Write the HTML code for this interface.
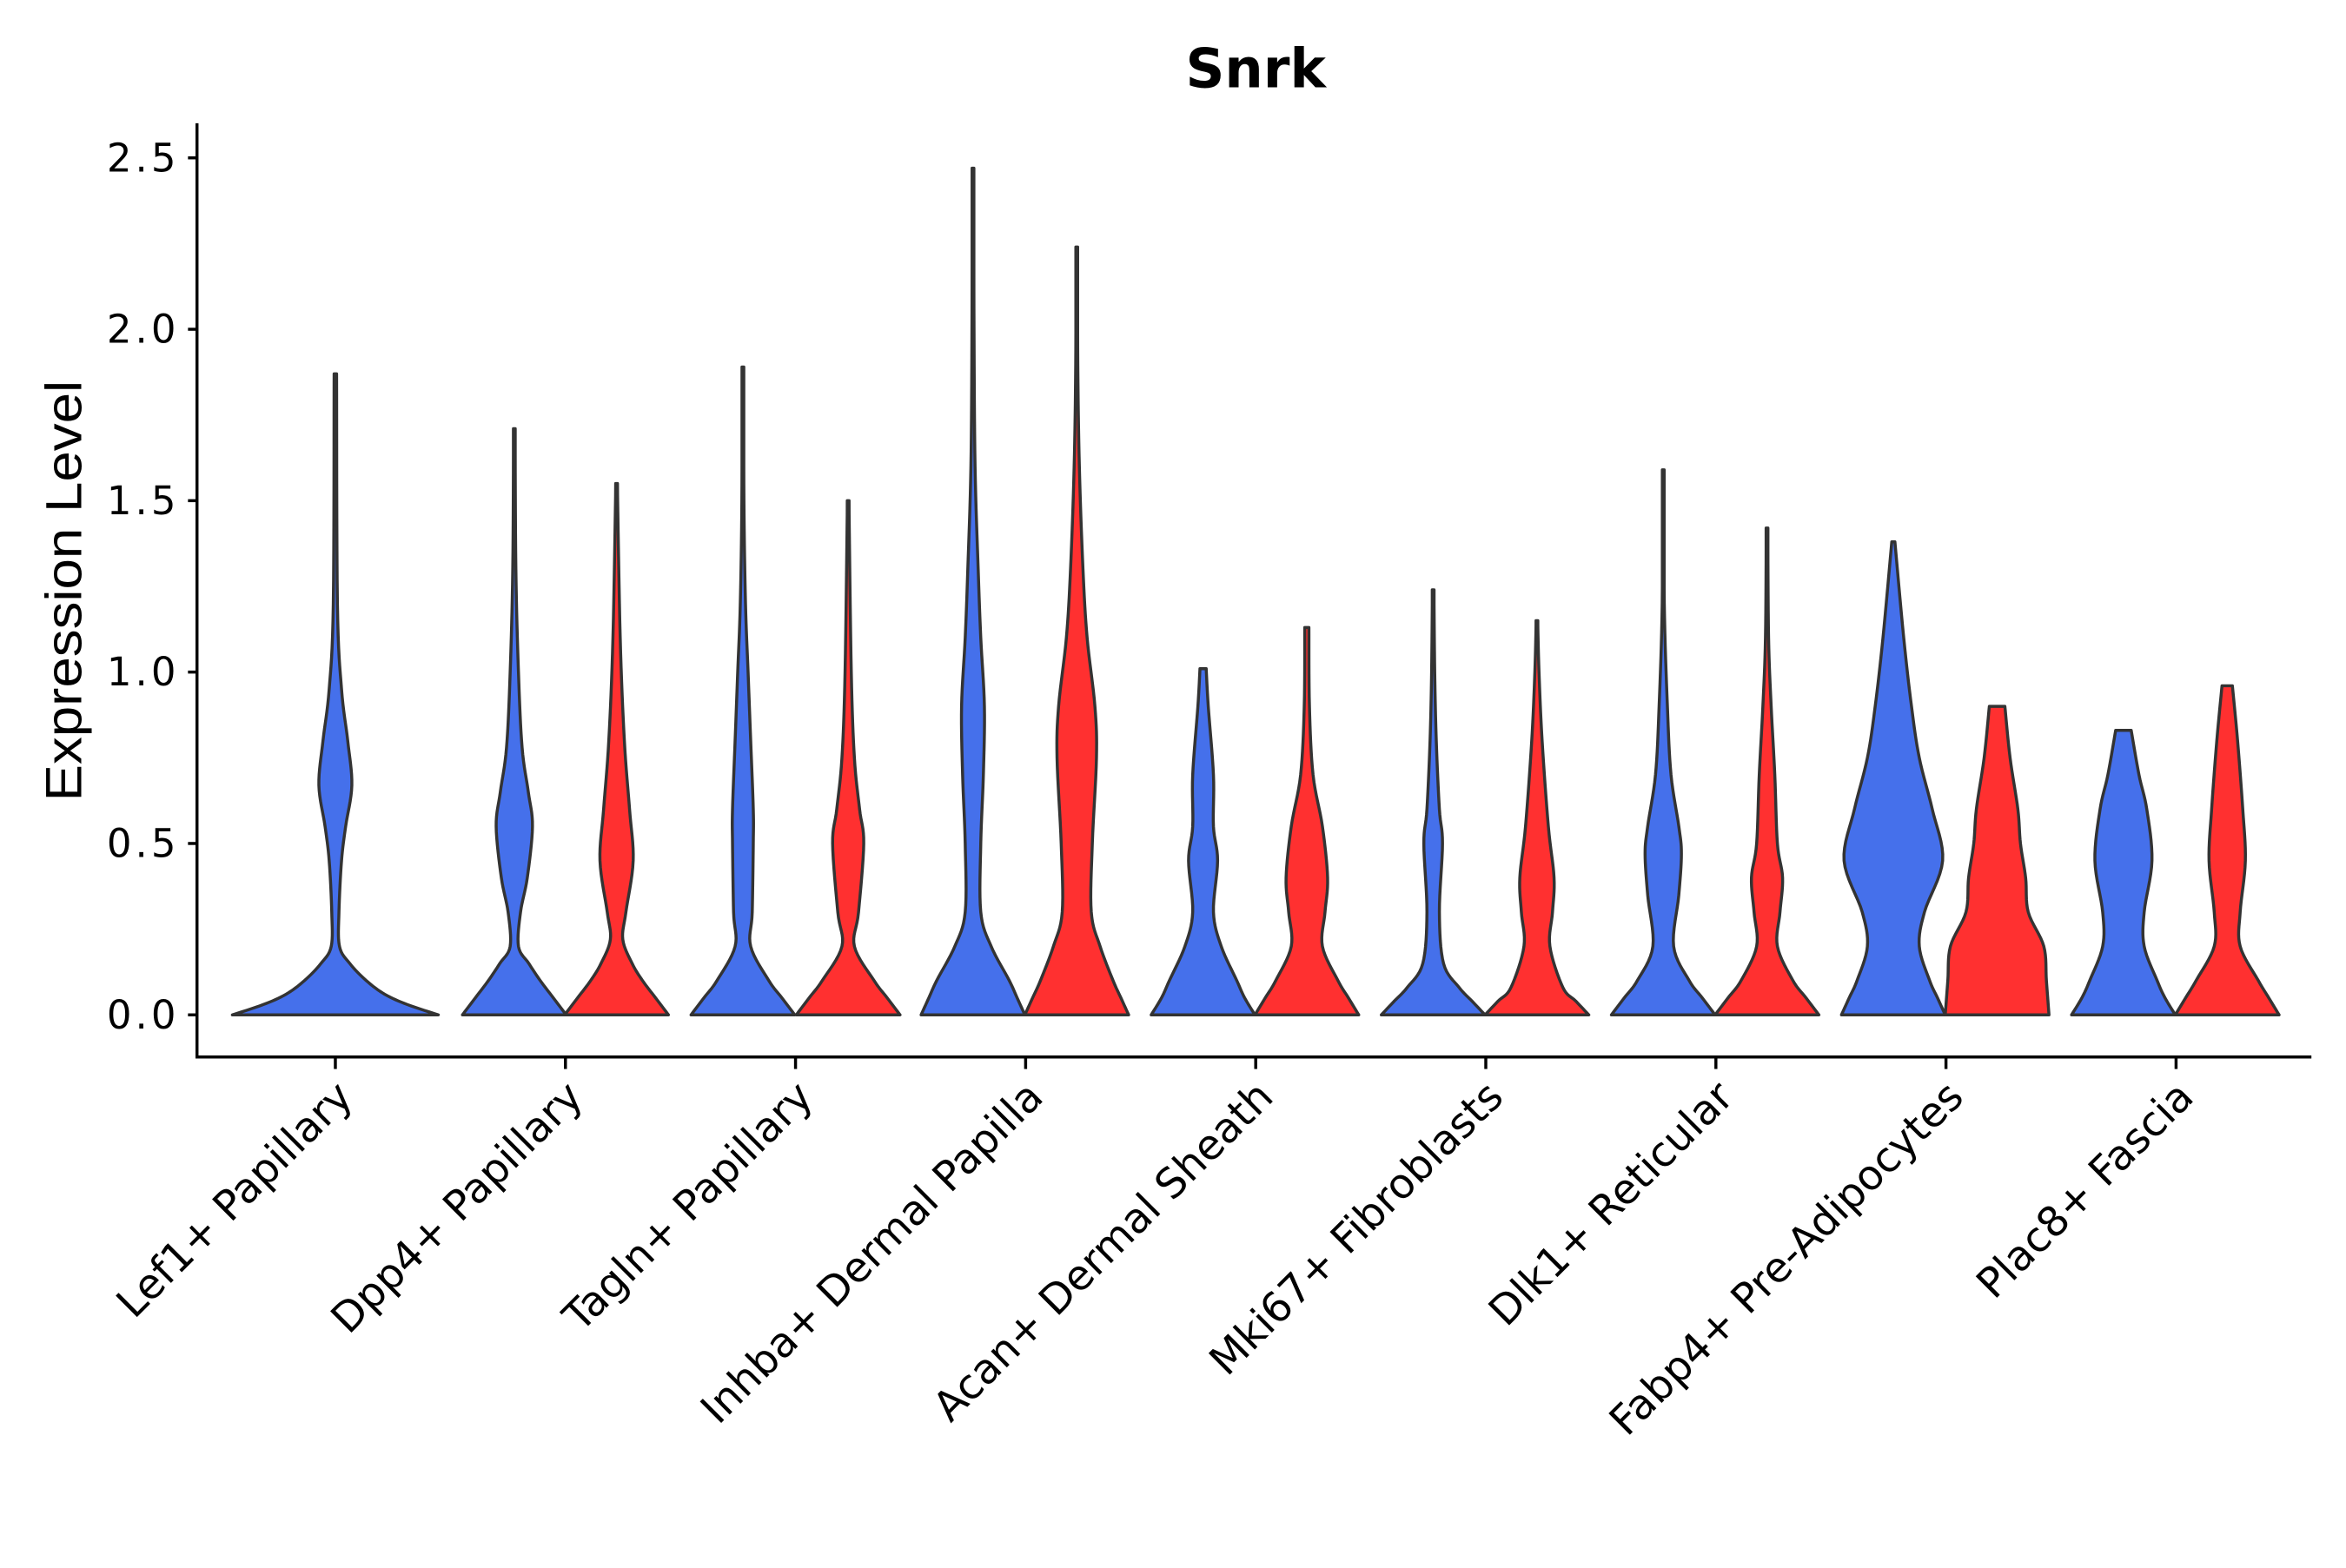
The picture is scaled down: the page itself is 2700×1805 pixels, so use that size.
<!DOCTYPE html>
<html><head><meta charset="utf-8"><style>html,body{margin:0;padding:0;background:#fff}</style></head>
<body>
<svg id="s" width="2700" height="1800" viewBox="0 0 1560 1040" xmlns="http://www.w3.org/2000/svg" font-family="DejaVu Sans, Liberation Sans, sans-serif">
<rect width="1560" height="1040" fill="#fff"/>
<text x="835" y="58" font-size="36" font-weight="bold" text-anchor="middle">Snrk</text>
<text transform="translate(54,393) rotate(-90)" font-size="34" text-anchor="middle" font-family="Liberation Sans, sans-serif" textLength="280" lengthAdjust="spacingAndGlyphs">Expression Level</text>
<g id="v"></g>
<line x1="131" y1="82" x2="131" y2="704" stroke="#000" stroke-width="2"/>
<line x1="130" y1="703" x2="1537" y2="703" stroke="#000" stroke-width="2"/>
<g font-size="26" text-anchor="end" id="yt"></g>
<g font-size="27.5" text-anchor="end" id="xt"></g>
</svg>
<script>
var NS="http://www.w3.org/2000/svg";
function Y(v){return 675-228*v;}
var yt=document.getElementById('yt');
[0,0.5,1,1.5,2,2.5].forEach(function(v){
 var l=document.createElementNS(NS,'line');l.setAttribute('x1',125);l.setAttribute('x2',131);l.setAttribute('y1',Y(v));l.setAttribute('y2',Y(v));l.setAttribute('stroke','#000');l.setAttribute('stroke-width',2);yt.appendChild(l);
 var t=document.createElementNS(NS,'text');t.setAttribute('x',117);t.setAttribute('y',Y(v)+9);t.setAttribute('textLength',46);t.textContent=v.toFixed(1);yt.appendChild(t);});
var cats=["Lef1+ Papillary","Dpp4+ Papillary","Tagln+ Papillary","Inhba+ Dermal Papilla","Acan+ Dermal Sheath","Mki67+ Fibroblasts","Dlk1+ Reticular","Fabp4+ Pre-Adipocytes","Plac8+ Fascia"];
var xt=document.getElementById('xt');
cats.forEach(function(c,i){var x=223+153*i;
 var l=document.createElementNS(NS,'line');l.setAttribute('x1',x);l.setAttribute('x2',x);l.setAttribute('y1',703);l.setAttribute('y2',711);l.setAttribute('stroke','#000');l.setAttribute('stroke-width',2);xt.appendChild(l);
 var t=document.createElementNS(NS,'text');t.setAttribute('transform','translate('+(x+13)+',731) rotate(-45)');t.textContent=c;xt.appendChild(t);});
var B="#4570EB",R="#FF3030";
var V=[
[223,68.5,B,[[0,1],[0.03,0.7],[0.06,0.48],[0.1,0.3],[0.15,0.14],[0.2,0.04],[0.3,0.035],[0.45,0.06],[0.55,0.1],[0.67,0.16],[0.8,0.12],[0.95,0.06],[1.2,0.02],[1.87,0.012]]],
[342,34.5,B,[[0,1],[0.05,0.75],[0.1,0.5],[0.15,0.28],[0.2,0.08],[0.3,0.12],[0.4,0.25],[0.55,0.35],[0.65,0.27],[0.78,0.15],[1.0,0.08],[1.3,0.03],[1.71,0.015]]],
[410,34.5,R,[[0,1],[0.05,0.75],[0.1,0.5],[0.15,0.3],[0.22,0.12],[0.3,0.18],[0.45,0.32],[0.6,0.25],[0.8,0.15],[1.1,0.07],[1.55,0.015]]],
[494,34.5,B,[[0,1],[0.05,0.75],[0.1,0.5],[0.2,0.15],[0.3,0.18],[0.5,0.2],[0.6,0.2],[0.8,0.15],[1.0,0.1],[1.2,0.05],[1.5,0.02],[1.89,0.015]]],
[564,34.5,R,[[0,1],[0.05,0.75],[0.1,0.5],[0.2,0.12],[0.3,0.2],[0.5,0.3],[0.6,0.22],[0.75,0.12],[1.0,0.06],[1.5,0.015]]],
[647,34.5,B,[[0,1],[0.05,0.85],[0.1,0.7],[0.2,0.35],[0.3,0.15],[0.5,0.15],[0.7,0.2],[0.9,0.22],[1.1,0.15],[1.3,0.1],[1.6,0.04],[2.0,0.02],[2.47,0.015]]],
[716,34.5,R,[[0,1],[0.05,0.85],[0.1,0.7],[0.2,0.45],[0.3,0.28],[0.5,0.3],[0.75,0.38],[0.9,0.35],[1.1,0.2],[1.3,0.12],[1.6,0.05],[1.9,0.02],[2.24,0.015]]],
[800,34.5,B,[[0,1],[0.05,0.8],[0.1,0.65],[0.2,0.35],[0.3,0.2],[0.45,0.28],[0.55,0.2],[0.7,0.2],[0.9,0.1],[1.01,0.06]]],
[869,34.5,R,[[0,1],[0.05,0.8],[0.1,0.6],[0.2,0.3],[0.3,0.35],[0.4,0.4],[0.55,0.3],[0.7,0.12],[0.9,0.05],[1.13,0.04]]],
[953,34.5,B,[[0,1],[0.04,0.75],[0.08,0.5],[0.15,0.2],[0.3,0.12],[0.5,0.18],[0.6,0.12],[0.8,0.06],[1.0,0.03],[1.24,0.015]]],
[1022,34.5,R,[[0,1],[0.04,0.75],[0.08,0.5],[0.2,0.25],[0.3,0.3],[0.4,0.33],[0.55,0.22],[0.8,0.1],[1.0,0.04],[1.15,0.015]]],
[1106,34.5,B,[[0,1],[0.05,0.75],[0.1,0.5],[0.2,0.2],[0.35,0.3],[0.47,0.35],[0.55,0.3],[0.7,0.15],[0.9,0.08],[1.2,0.02],[1.59,0.015]]],
[1175,34.5,R,[[0,1],[0.05,0.75],[0.1,0.5],[0.2,0.2],[0.3,0.25],[0.4,0.3],[0.5,0.2],[0.7,0.15],[0.9,0.08],[1.1,0.03],[1.42,0.015]]],
[1259,34.5,B,[[0,1],[0.05,0.85],[0.1,0.7],[0.2,0.5],[0.3,0.6],[0.45,0.95],[0.6,0.75],[0.75,0.5],[0.9,0.35],[1.1,0.2],[1.38,0.03]]],
[1328,34.5,R,[[0,1],[0.1,0.95],[0.2,0.9],[0.3,0.6],[0.4,0.55],[0.5,0.45],[0.6,0.4],[0.75,0.25],[0.9,0.15]]],
[1412,34.5,B,[[0,1],[0.05,0.8],[0.1,0.65],[0.2,0.4],[0.3,0.4],[0.45,0.55],[0.6,0.45],[0.7,0.3],[0.83,0.15]]],
[1481,34.5,R,[[0,1],[0.05,0.8],[0.1,0.6],[0.2,0.25],[0.3,0.25],[0.45,0.35],[0.6,0.3],[0.8,0.2],[0.96,0.1]]]
];
function smooth(p){var out=[];for(var i=0;i<p.length-1;i++){var p0=p[Math.max(i-1,0)],p1=p[i],p2=p[i+1],p3=p[Math.min(i+2,p.length-1)];
 for(var k=0;k<8;k++){var t=k/8,t2=t*t,t3=t2*t;
 var f=function(a,b,c,d){return 0.5*((2*b)+(-a+c)*t+(2*a-5*b+4*c-d)*t2+(-a+3*b-3*c+d)*t3);};
 out.push([f(p0[0],p1[0],p2[0],p3[0]),Math.max(0.005,f(p0[1],p1[1],p2[1],p3[1]))]);}}
 out.push(p[p.length-1]);return out;}
var g=document.getElementById('v');
V.forEach(function(d){var cx=d[0],hw=d[1],p=smooth(d[3]);var L=[],Rr=[];
 p.forEach(function(q){var w=Math.max(q[1]*hw,0.6);L.push((cx-w).toFixed(2)+','+Y(q[0]).toFixed(2));Rr.unshift((cx+w).toFixed(2)+','+Y(q[0]).toFixed(2));});
 var e=document.createElementNS(NS,'path');e.setAttribute('d','M'+L.join(' L')+' L'+Rr.join(' L')+' Z');
 e.setAttribute('fill',d[2]);e.setAttribute('stroke','#333');e.setAttribute('stroke-width',2);e.setAttribute('stroke-linejoin','round');g.appendChild(e);});
</script>
</body></html>
